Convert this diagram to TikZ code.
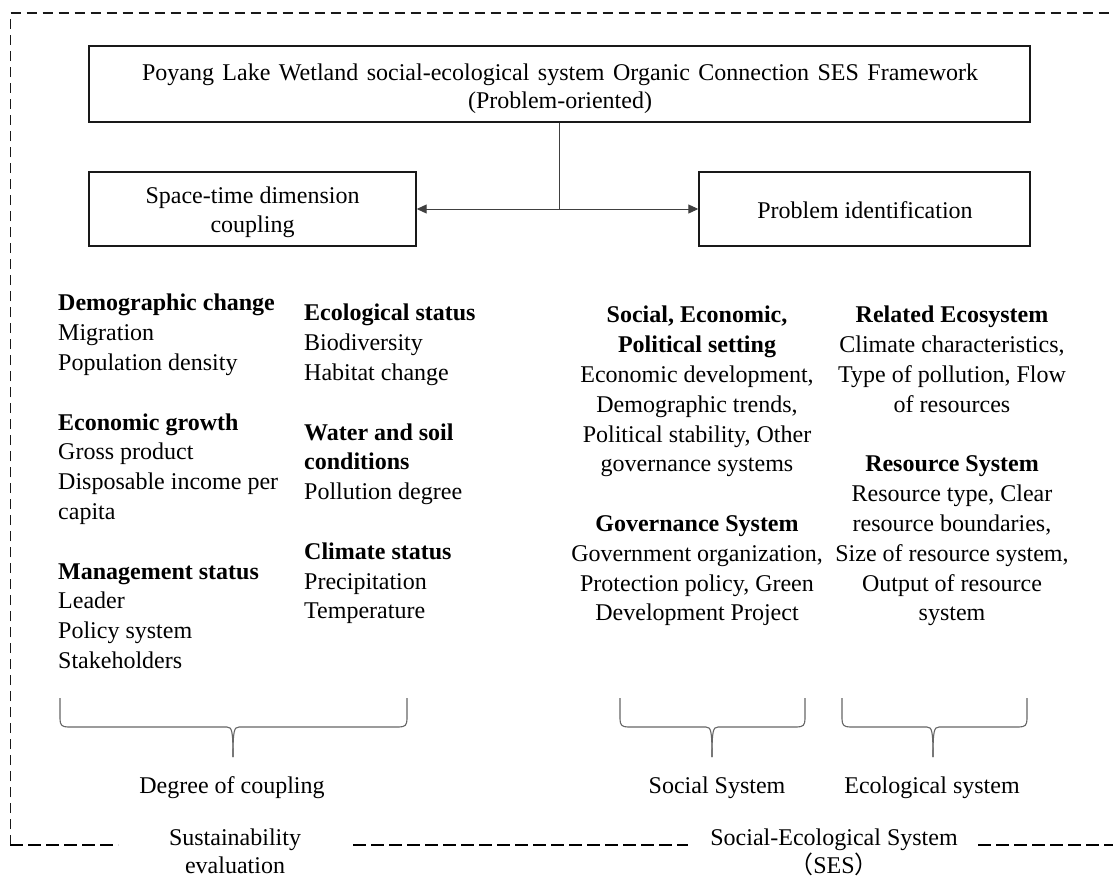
\documentclass[tikz,border=0pt]{standalone}
\usepackage{fontspec}
\setmainfont{Liberation Serif}
\newfontfamily\cjk{Noto Sans CJK SC}
\usetikzlibrary{arrows.meta}
\newcommand\flatbrace[3]{%
  \draw[brc] (#1,698) -- (#1,719) .. controls (#1,725) and (#1+2,727) .. (#1+8,727) -- (#3-6,727) .. controls (#3-1,727) and (#3,731) .. (#3,757);
  \draw[brc] (#2,698) -- (#2,719) .. controls (#2,725) and (#2-2,727) .. (#2-8,727) -- (#3+6,727) .. controls (#3+1,727) and (#3,731) .. (#3,757);}
\begin{document}
\begin{tikzpicture}[x=1pt,y=-1pt,
  box/.style={draw=black!90,line width=1.4pt,inner sep=0pt},
  txt/.style={inner sep=0pt,font=\fontsize{24}{29.8}\selectfont},
  brc/.style={draw=black!60,line width=1.1pt},
  conn/.style={draw=black!75,line width=1pt},
  frame/.style={draw=black!90,line width=1.3pt,dash pattern=on 10pt off 6pt},
  bframe/.style={draw=black,line width=2.4pt,dash pattern=on 13pt off 5pt},
  tip/.style={-{Triangle[length=10pt,width=9pt]}}]
\useasboundingbox[fill=white] (0,0) rectangle (1113,880);

% frame
\draw[frame] (10.5,845) -- (10.5,13) -- (1113,13);
\draw[bframe] (10,845) -- (118,845);
\draw[bframe] (353,845) -- (688,845);
\draw[bframe] (978,845) -- (1113,845);

% boxes
\node[box,minimum width=941pt,minimum height=76pt] (top) at (559.5,84) {};
\node[box,minimum width=327pt,minimum height=74pt] (stc) at (252.5,209) {};
\node[box,minimum width=331pt,minimum height=74pt] (pid) at (864.5,209) {};

\node[txt,anchor=north,align=center] (toptxt) at (560,64) {\makebox[836pt][s]{Poyang Lake Wetland social-ecological system Organic Connection SES Framework}\\[-1.8pt](Problem-oriented)};
\node[txt,anchor=north,align=center] (stctxt) at (252.5,187) {Space-time dimension\\[-0.8pt]coupling};
\node[txt,anchor=base] (pidtxt) at (865,218) {Problem identification};

% connectors
\coordinate (j) at (top.south |- stc.east);
\draw[conn] (top.south) -- (j);
\draw[conn,tip] (j) -- (stc.east);
\draw[conn,tip] (j) -- (pid.west);

% columns
\node[txt,anchor=north west,align=left] (c1) at (58,294) {\textbf{Demographic change}\\Migration\\Population density\\[29.8pt]\textbf{Economic growth}\\Gross product\\Disposable income per\\capita\\[29.8pt]\textbf{Management status}\\Leader\\Policy system\\Stakeholders};
\node[txt,anchor=north west,align=left] (c2) at (304,304) {\textbf{Ecological status}\\Biodiversity\\Habitat change\\[29.8pt]\textbf{Water and soil}\\\textbf{conditions}\\Pollution degree\\[29.8pt]\textbf{Climate status}\\Precipitation\\Temperature};
\node[txt,anchor=north,align=center] (c3) at (697,306) {\textbf{Social, Economic,}\\\textbf{Political setting}\\Economic development,\\Demographic trends,\\Political stability, Other\\governance systems\\[29.8pt]\textbf{Governance System}\\Government organization,\\Protection policy, Green\\Development Project};
\node[txt,anchor=north,align=center] (c4) at (952,306) {\textbf{Related Ecosystem}\\Climate characteristics,\\Type of pollution, Flow\\of resources\\[29.8pt]\textbf{Resource System}\\Resource type, Clear\\resource boundaries,\\Size of resource system,\\Output of resource\\system};

% braces
\flatbrace{60}{407}{233}
\flatbrace{620}{805}{712}
\flatbrace{842}{1027}{933}

% labels
\node[txt,anchor=base] (doc) at (232,793) {Degree of coupling};
\node[txt,anchor=base] (ss) at (717,793) {Social System};
\node[txt,anchor=base] (es) at (932,793) {Ecological system};
\node[txt,anchor=north,align=center] (se) at (235,829) {Sustainability\\[-1.8pt]evaluation};
\node[txt,anchor=north,align=center] (ses) at (834,829) {Social-Ecological System\\[-1.8pt]{\cjk （}SES{\cjk ）}};
\end{tikzpicture}
\end{document}
